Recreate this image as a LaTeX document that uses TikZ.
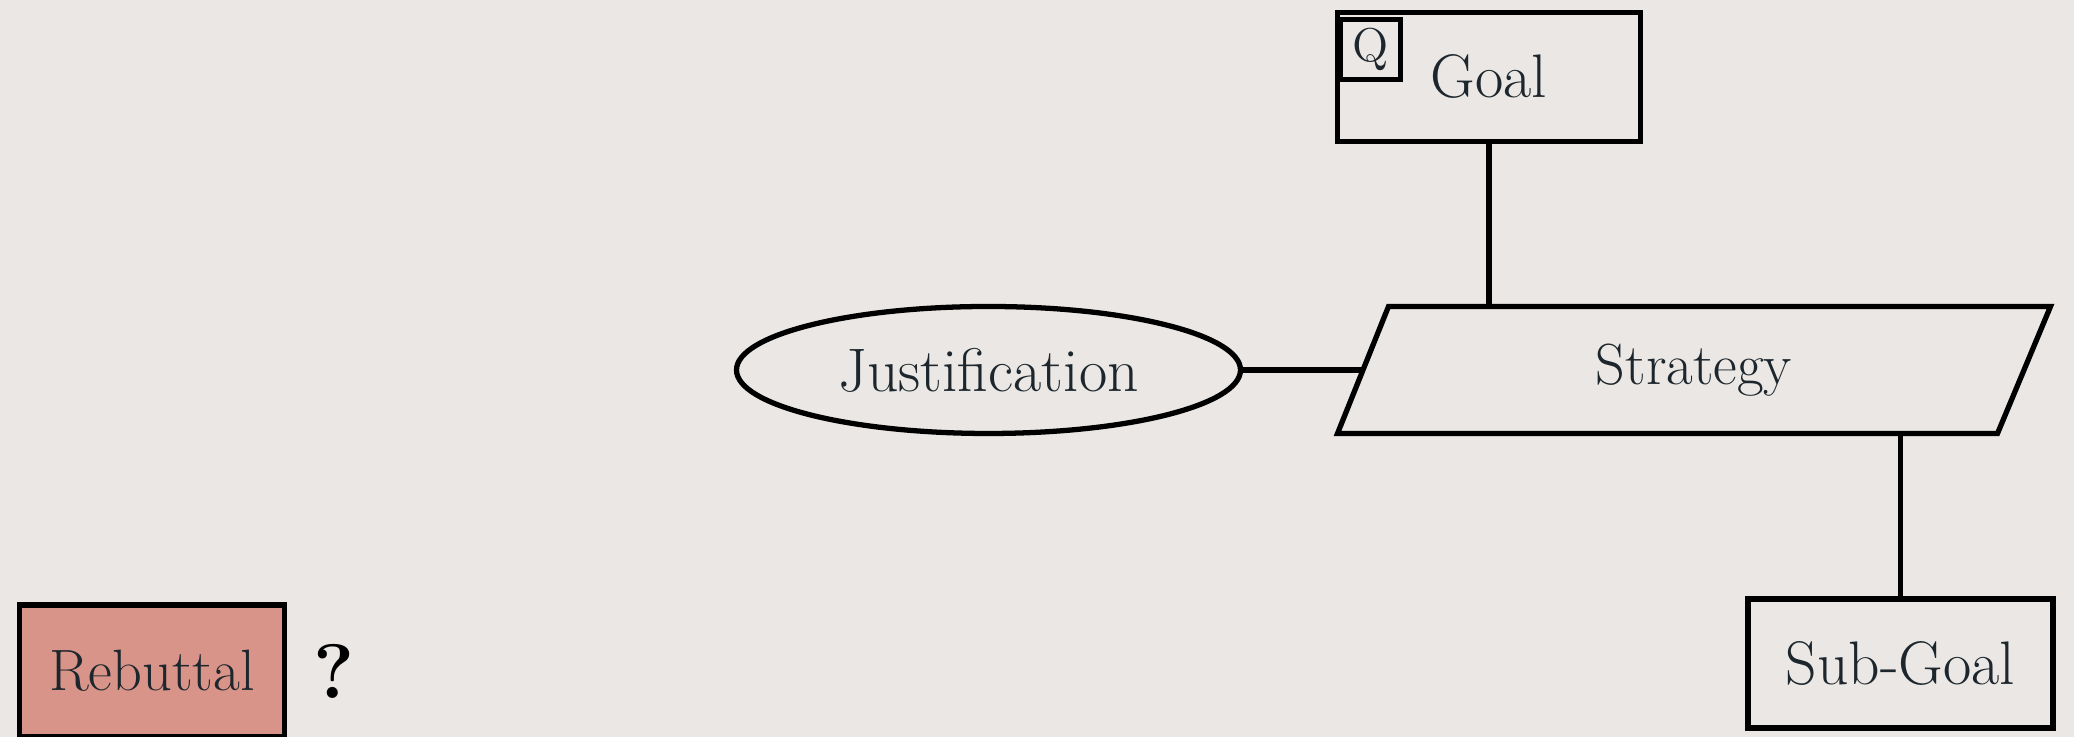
\documentclass[tikz,border=0pt]{standalone}
\usepackage{tikz}
\usetikzlibrary{shapes.geometric, positioning}
\definecolor{paper}{RGB}{234,231,228}
\definecolor{inkdark}{RGB}{28,38,44}
\definecolor{salmon}{RGB}{216,148,137}

\begin{document}
\begin{tikzpicture}[
  goalbox/.style={rectangle, draw=black, line width=1.5pt, text=inkdark, font=\fontsize{17.5}{20}\selectfont, inner sep=0pt},
  qbox/.style={rectangle, draw=black, line width=1.5pt, text=inkdark, minimum size=0.6cm, inner sep=0pt, font=\fontsize{13.5}{15}\selectfont},
  justshape/.style={ellipse, draw=black, line width=1.5pt, text=inkdark, inner sep=0pt, font=\fontsize{17.5}{20}\selectfont},
  stratlabel/.style={text=inkdark, inner sep=0pt, font=\fontsize{16.5}{19}\selectfont},
  link/.style={draw=black, line width=1.5pt}
]
\fill[paper] (0,0) rectangle (20.74,7.37);
\useasboundingbox (0,0) rectangle (20.74,7.37);

\node (goal) at (14.89,6.60) [goalbox, minimum width=3.03cm, minimum height=1.285cm] {Goal};
\node (q) at (13.705,6.875) [qbox] {Q};

% strategy parallelogram
\coordinate (sbl) at (13.375,3.035);
\coordinate (sbr) at (19.975,3.035);
\coordinate (str) at (20.505,4.305);
\coordinate (stl) at (13.885,4.305);
\coordinate (sleft) at (13.63,3.67);
\draw [link] (sbl) -- (sbr) -- (str) -- (stl) -- cycle;
\node (strat) at (16.94,3.67) [stratlabel] {Strategy};

\node (just) at (9.885,3.67) [justshape, minimum width=5.04cm, minimum height=1.27cm] {Justification};
\node (sub) at (19.005,0.735) [goalbox, minimum width=3.05cm, minimum height=1.29cm] {Sub-Goal};
\node (reb) at (1.52,0.66) [goalbox, fill=salmon, minimum width=2.65cm, minimum height=1.32cm, font=\fontsize{16.6}{19}\selectfont] {Rebuttal};
\node (ask) [right=0.14cm of reb] {\fontsize{22}{24}\selectfont\bfseries ?};

\draw [link] (goal.south) -- (goal.south |- stl);
\draw [link] (just.east) -- (sleft);
\draw [link] (sub.north) -- (sub.north |- sbl);

\end{tikzpicture}
\end{document}
